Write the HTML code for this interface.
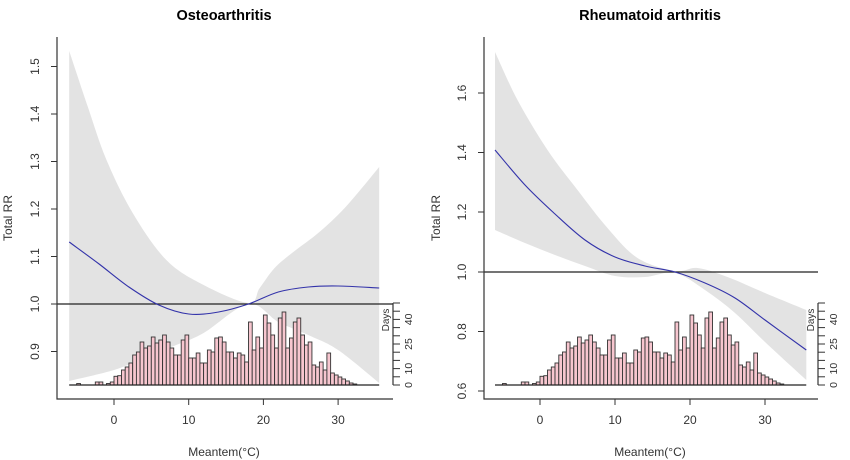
<!DOCTYPE html>
<html><head><meta charset="utf-8"><style>
html,body{margin:0;padding:0;background:#fff;}
svg{display:block;font-family:"Liberation Sans",Arial,sans-serif;}
</style></head><body>
<svg id="s" width="850" height="460" xmlns="http://www.w3.org/2000/svg"></svg>
<script>
var S=document.getElementById('s');
var h='';
function cr(pts){
 var d='M'+pts[0][0]+','+pts[0][1];
 for(var i=0;i<pts.length-1;i++){
  var p0=pts[i-1]||pts[i],p1=pts[i],p2=pts[i+1],p3=pts[i+2]||p2;
  var c1x=p1[0]+(p2[0]-p0[0])/6,c1y=p1[1]+(p2[1]-p0[1])/6;
  var c2x=p2[0]-(p3[0]-p1[0])/6,c2y=p2[1]-(p3[1]-p1[1])/6;
  d+=' C'+c1x.toFixed(1)+','+c1y.toFixed(1)+' '+c2x.toFixed(1)+','+c2y.toFixed(1)+' '+p2[0]+','+p2[1];
 }
 return d;
}
function rev(p){return p.slice().reverse();}
function band(up,lo){return cr(up)+' '+cr(rev(lo)).replace('M','L')+' Z';}
var hz={'-5':1.5,'-2.5':3,'-2':3,'-1':1.5};
var H=[3,8.7,9.3,15,18,22,30,33,43,37,39,48,42,45,50,43,37,30,30,45,50,27,27,32,22,22,35,33,47,48,43,33,
33,27,32,30,23,63,35,48,37,70,62,50,37,67,73,37,47,63,67,50,40,43,20,18,23,15,32,12,10,8,6,4,2,1];
function hist(x0,sx,base,k){
 var o='';
 for(var v=-6;v<-0.5;v+=0.5){var c=hz[String(v)]||0;if(!c)continue;var x=x0+v*sx;
  o+='<rect x="'+x.toFixed(1)+'" y="'+(base-c*k)+'" width="'+(sx/2).toFixed(2)+'" height="'+(c*k)+'" fill="#f7c6cf" stroke="#333" stroke-width="0.9"/>';}
 for(var i=0;i<H.length;i++){var v=-0.5+i*0.5;var x=x0+v*sx;var hh=H[i]*k;
  o+='<rect x="'+x.toFixed(1)+'" y="'+(base-hh).toFixed(1)+'" width="'+(sx/2).toFixed(2)+'" height="'+hh.toFixed(1)+'" fill="#f7c6cf" stroke="#333" stroke-width="0.9"/>';}
 return o;
}
function panel(o){
 var X=function(v){return o.x0+v*o.sx;};
 h+='<text x="'+o.tx+'" y="20" font-size="14.5" font-weight="bold" text-anchor="middle">'+o.title+'</text>';
 h+='<path d="'+band(o.up,o.lo)+'" fill="#e3e3e3"/>';
 h+=hist(o.x0,o.sx,385,1);
 h+='<line x1="'+X(-6)+'" y1="385" x2="'+X(35.5)+'" y2="385" stroke="#222" stroke-width="1.2"/>';
 h+='<line x1="'+o.ax+'" y1="'+o.y1+'" x2="'+o.rx+'" y2="'+o.y1+'" stroke="#222" stroke-width="1.2"/>';
 h+='<path d="'+cr(o.rr)+'" fill="none" stroke="#3333aa" stroke-width="1.1"/>';
 h+='<path d="M'+o.ax+',37 L'+o.ax+',399 L'+o.rx+',399" fill="none" stroke="#333" stroke-width="1.2"/>';
 for(var i=0;i<o.yt.length;i++){var t=o.yt[i];
  h+='<line x1="'+(o.ax-6)+'" y1="'+t[1]+'" x2="'+o.ax+'" y2="'+t[1]+'" stroke="#333"/>';
  h+='<text transform="translate('+(o.ax-18)+','+t[1]+') rotate(-90)" font-size="12" text-anchor="middle" fill="#333">'+t[0]+'</text>';}
 [0,10,20,30].forEach(function(v){var x=X(v);
  h+='<line x1="'+x+'" y1="399" x2="'+x+'" y2="405" stroke="#333"/>';
  h+='<text x="'+x+'" y="424" font-size="12" text-anchor="middle" fill="#333">'+v+'</text>';});
 h+='<text transform="translate('+o.lx+',218) rotate(-90)" font-size="12" text-anchor="middle" fill="#333">Total RR</text>';
 h+='<text x="'+o.tx+'" y="456" font-size="12" text-anchor="middle" fill="#333">Meantem(°C)</text>';
 var dx=o.rx;
 h+='<line x1="'+dx+'" y1="303" x2="'+dx+'" y2="385" stroke="#333" stroke-width="1.2"/>';
 for(var d=0;d<=50;d+=5){var y=385-d*1.64;h+='<line x1="'+dx+'" y1="'+y.toFixed(1)+'" x2="'+(dx+7)+'" y2="'+y.toFixed(1)+'" stroke="#333"/>';}
 [0,10,25,40].forEach(function(d){var y=385-d*1.64;
  h+='<text transform="translate('+(dx+19)+','+y.toFixed(1)+') rotate(-90)" font-size="10.5" text-anchor="middle" fill="#333">'+d+'</text>';});
 h+='<text transform="translate('+(dx-4)+',320) rotate(-90)" font-size="10" text-anchor="middle" fill="#333">Days</text>';
}
function mk(f,arr){return arr.map(function(p){return [f(p[0]),p[1]];});}
function lx(v){return +(114+v*7.47).toFixed(1);}
panel({x0:114,sx:7.47,tx:224,title:'Osteoarthritis',ax:57,rx:393,lx:12,y1:304,
 yt:[['0.9',351.5],['1.0',304],['1.1',256.5],['1.2',209],['1.3',161.5],['1.4',114],['1.5',66.5]],
 up:mk(lx,[[-6,51],[-3.5,107],[-1,160],[2.5,213],[7,260],[12,285],[18,303],[19.5,288],[21.5,268],[24,252],[27.5,232],[31,207],[35.5,167]]),
 lo:mk(lx,[[-6,381],[0,370],[4,358],[8,346],[12,333],[18,304],[22,322],[26,335],[30,350],[35.5,383]]),
 rr:mk(lx,[[-6,242],[-2,264],[2,287],[6,305],[10,314],[14,312],[18,304],[22,292],[26,287],[30,286],[35.5,288]])
});
function rx(v){return +(540+v*7.5).toFixed(1);}
panel({x0:540,sx:7.5,tx:650,title:'Rheumatoid arthritis',ax:484,rx:818,lx:440,y1:272,
 yt:[['0.6',391],['0.8',331.5],['1.0',272],['1.2',212],['1.4',152.5],['1.6',93]],
 up:mk(rx,[[-6,52],[-3,100],[1,150],[5,190],[9,228],[13,258],[18,271],[21,268],[25,277],[30,293],[35.5,310]]),
 lo:mk(rx,[[-6,230],[-2,243],[2,255],[6,266],[10,276],[14,277],[18,273],[22,290],[26,313],[30,342],[35.5,380]]),
 rr:mk(rx,[[-6,150],[-2,185],[2,214],[6,240],[10,257],[14,266],[18,272],[22,283],[26,298],[30,320],[35.5,350]])
});
S.innerHTML=h;
</script>
</body></html>
